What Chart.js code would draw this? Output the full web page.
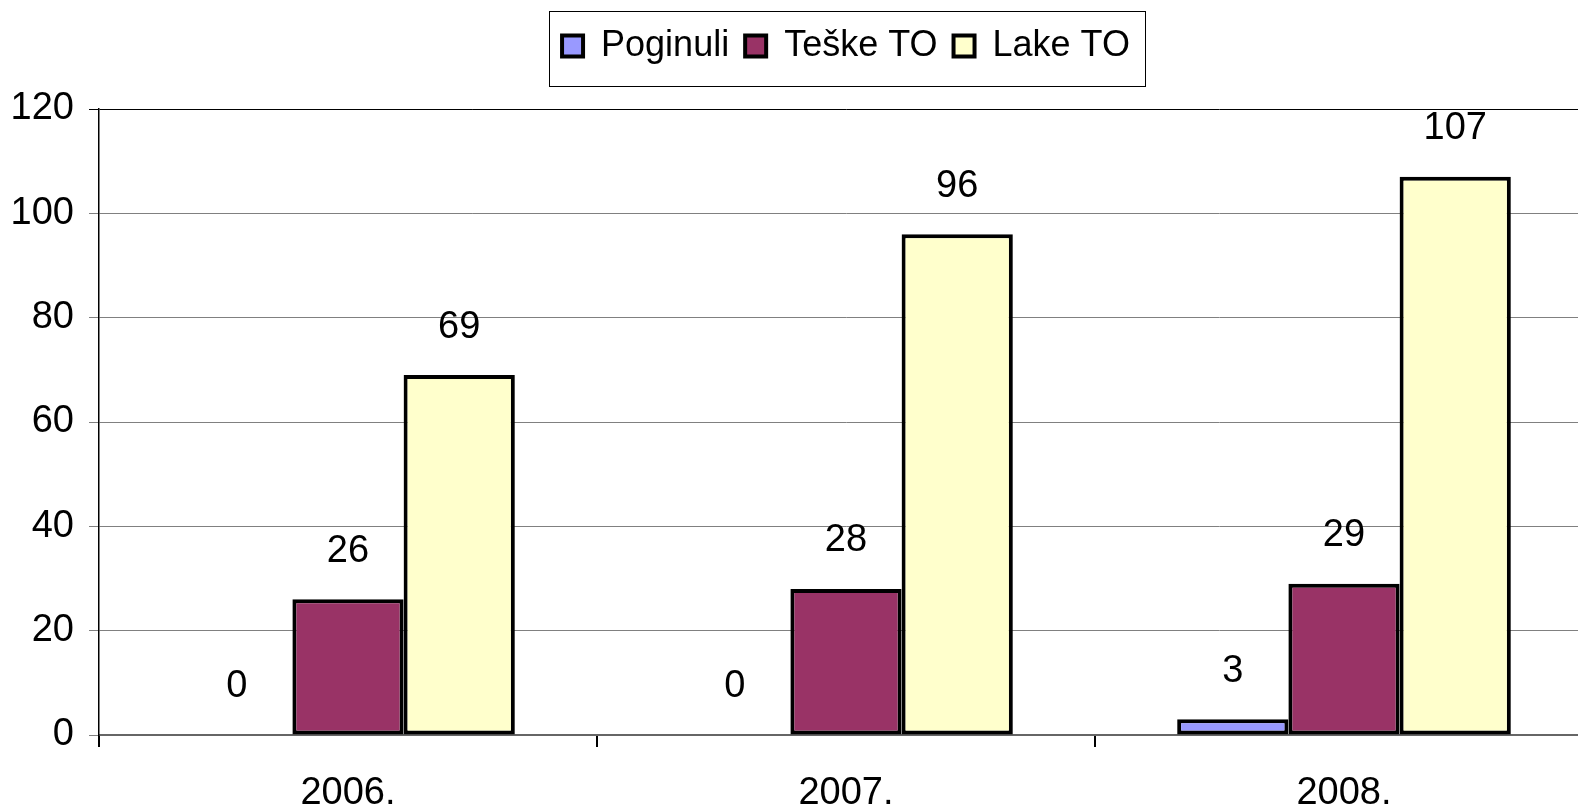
<!DOCTYPE html>
<html>
<head>
<meta charset="utf-8">
<script src="https://cdn.jsdelivr.net/npm/chart.js@4.4.1/dist/chart.umd.min.js"></script>
<style>
  html, body { margin: 0; padding: 0; background: #fff; overflow: hidden; }
  #wrap { width: 1593px; height: 811px; }
</style>
</head>
<body>
<div id="wrap"><canvas id="crashChart" width="1593" height="811"></canvas></div>
<script>
// --- data ---
const years = ['2006.', '2007.', '2008.'];
const poginuli = [0, 0, 3];
const teskeTO = [26, 28, 29];
const lakeTO = [69, 96, 107];
const yTicks = [0, 20, 40, 60, 80, 100, 120];

const FONT = "'Liberation Sans', Arial, sans-serif";
const FSIZE = 38;

// legend height fixed so the plot starts where the original does
const legendFitPlugin = {
    id: 'legendFit',
    afterInit(chart) {
        const legend = chart.legend;
        if (!legend) return;
        const origFit = legend.fit;
        legend.fit = function () {
            origFit.call(this);
            this.height = 97;
        };
    }
};

// box around the legend items
const legendBorderPlugin = {
    id: 'legendBorder',
    afterDraw(chart) {
        const boxes = chart.legend?.legendHitBoxes;
        if (!boxes || !boxes.length) return;
        let left = Infinity, right = -Infinity;
        boxes.forEach(b => {
            left = Math.min(left, b.left);
            right = Math.max(right, b.left + b.width);
        });
        const ctx = chart.ctx;
        ctx.save();
        ctx.strokeStyle = '#000';
        ctx.lineWidth = 1;
        ctx.strokeRect(Math.round(left - 13) + 0.5, 11.5,
            Math.round(right - left + 28), 75);
        ctx.restore();
    }
};

// value labels above the bars
const valueLabelPlugin = {
    id: 'valueLabels',
    afterDatasetsDraw(chart) {
        const ctx = chart.ctx;
        ctx.save();
        ctx.font = FSIZE + 'px ' + FONT;
        ctx.fillStyle = '#000';
        ctx.textAlign = 'center';
        ctx.textBaseline = 'middle';
        chart.data.datasets.forEach((ds, i) => {
            chart.getDatasetMeta(i).data.forEach((bar, j) => {
                ctx.fillText(String(ds.data[j]), bar.x, bar.y - 48);
            });
        });
        ctx.restore();
    }
};

const ctx = document.getElementById('crashChart').getContext('2d');
new Chart(ctx, {
    type: 'bar',
    data: {
        labels: years,
        datasets: [{
            label: 'Poginuli',
            data: poginuli,
            backgroundColor: '#9999FF',
            borderColor: '#000',
            borderWidth: 4,
            borderSkipped: false
        }, {
            label: 'Teške TO',
            data: teskeTO,
            backgroundColor: '#993366',
            borderColor: '#000',
            borderWidth: 4,
            borderSkipped: false
        }, {
            label: 'Lake TO',
            data: lakeTO,
            backgroundColor: '#FFFFCC',
            borderColor: '#000',
            borderWidth: 4,
            borderSkipped: false
        }]
    },
    options: {
        responsive: false,
        animation: false,
        layout: { padding: { top: 12, left: 0, right: 0, bottom: 0 } },
        datasets: {
            bar: { barPercentage: 1.0, categoryPercentage: 0.67 }
        },
        plugins: {
            tooltip: { enabled: false },
            legend: {
                position: 'top',
                fullSize: false,
                align: 'center',
                labels: {
                    font: { family: FONT, size: 36 },
                    color: '#000',
                    boxWidth: 21,
                    boxHeight: 21,
                    padding: 16
                }
            }
        },
        scales: {
            x: {
                afterFit(scale) { scale.height = 76; },
                grid: {
                    offset: true,
                    drawOnChartArea: false,
                    drawTicks: true,
                    tickLength: 12,
                    color: '#000',
                    lineWidth: 2
                },
                border: { color: '#666', width: 2 },
                ticks: {
                    font: { family: FONT, size: FSIZE },
                    color: '#000',
                    padding: 24
                }
            },
            y: {
                min: 0,
                max: 120,
                afterFit(scale) { scale.width = 99; },
                afterBuildTicks(scale) {
                    scale.ticks = yTicks.map(v => ({ value: v }));
                },
                grid: {
                    color: c => (c.tick && c.tick.value === 120 ? '#000' : '#808080'),
                    lineWidth: 1,
                    tickLength: 10
                },
                border: { color: '#000', width: 1.5 },
                ticks: {
                    font: { family: FONT, size: FSIZE },
                    color: '#000',
                    padding: 15
                }
            }
        }
    },
    plugins: [legendFitPlugin, legendBorderPlugin, valueLabelPlugin]
});
</script>
</body>
</html>
